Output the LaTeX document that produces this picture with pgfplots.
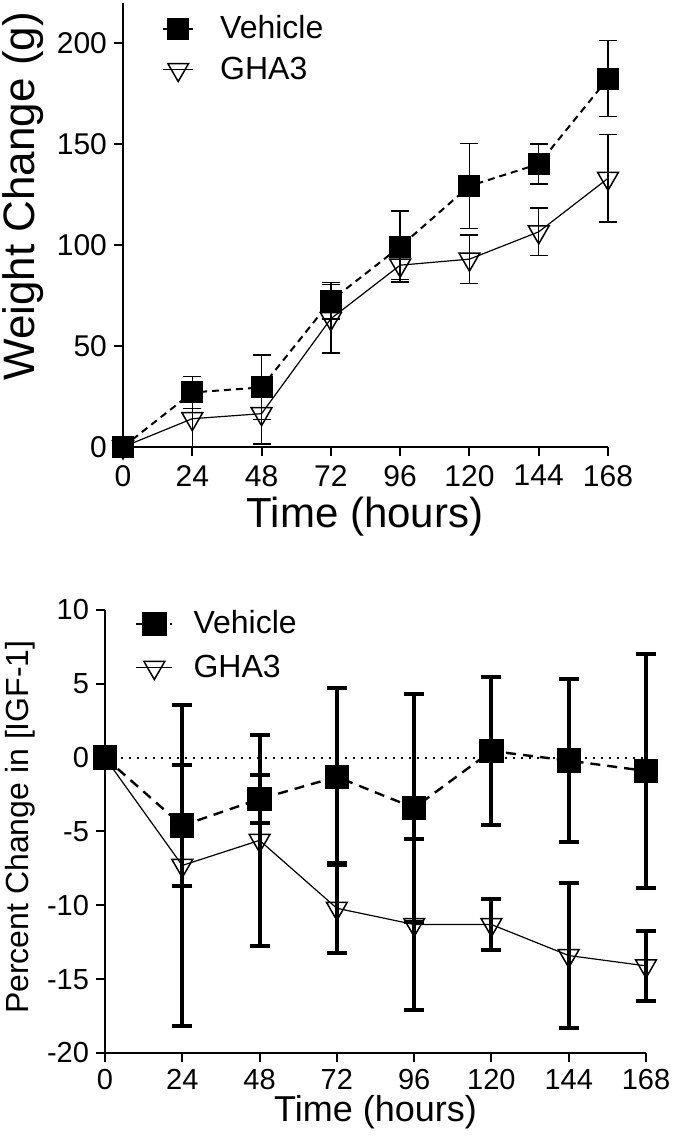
\documentclass[border=0pt]{standalone}
\usepackage{pgfplots}
\pgfplotsset{compat=1.18}
\usepackage{pgfplotstable}
\usepackage{fontspec}
\setmainfont{Liberation Sans}

% weight change (g): x, mean, error
\pgfplotstableread{
x   y      e
0   0      0
24  27     8
48  29.5   16
72  72.4   9
96  99.2   17.6
120 129.2  21
144 140.1  10
168 182.4  18.8
}\vehW
\pgfplotstableread{
x   y      e
0   0      0
24  14     14
48  16.5   15
72  63.5   17
96  90     7
120 93     12
144 106.5  11.8
168 133    21.6
}\ghaW
% percent change in IGF-1
\pgfplotstableread{
x   y      e
0   0      0
24  -4.6   4.1
48  -2.8   1.6
72  -1.3   6.0
96  -3.4   7.7
120 0.45   5.0
144 -0.2   5.5
168 -0.9   7.95
}\vehI
\pgfplotstableread{
x   y      e
0   0      0
24  -7.3   10.85
48  -5.6   7.15
72  -10.2  3.05
96  -11.3  5.8
120 -11.3  1.7
144 -13.4  4.9
168 -14.1  2.35
}\ghaI

\pgfplotsset{
  panel/.style={
    scale only axis, clip=false,
    axis lines=left, axis line style={-, line width=1pt},
    tick align=outside, major tick length=4.5pt,
    tick style={black, line width=1pt},
    xmin=0, xmax=168, xtick={0,24,...,168},
    /pgf/number format/assume math mode=true,
    legend cell align=left,
    legend style={draw=none, fill=none, inner sep=0pt, nodes={inner sep=1pt},
      font=\fontsize{16}{19}\selectfont},
    ylabel style={anchor=center},
    xlabel style={anchor=center},
  },
}

\begin{document}
\begin{tikzpicture}
\useasboundingbox (0,0) rectangle (337.5pt,570pt);

% ---- top: weight change
\begin{axis}[panel,
  at={(61.5pt,346.5pt)}, anchor=south west,
  width=242.5pt, height=222.2pt,
  ymin=0, ymax=220, ytick={0,50,...,200},
  ticklabel style={font=\fontsize{15}{18}\selectfont},
  xticklabel style={yshift=-1pt},
  xlabel={Time (hours)}, ylabel={Weight Change (g)},
  xlabel style={font=\fontsize{21}{25}\selectfont, at={(axis description cs:0.499,-0.157)}},
  ylabel style={font=\fontsize{22}{26}\selectfont, at={(axis description cs:-0.206,0.564)}},
  legend style={at={(axis description cs:0.08,0.976)}, anchor=north west,
    row sep=5.5pt, column sep=12pt},
  legend image code/.code={\draw[mark repeat=2,mark phase=2,#1] plot coordinates {(0pt,0pt) (7.5pt,0pt) (15pt,0pt)};},
]
\addplot[black, line width=1pt, dash pattern=on 3.5pt off 2.5pt,
  mark=square*, mark size=5pt, mark options={solid},
  error bars/.cd, y dir=both, y explicit,
  error bar style={line width=0.75pt, solid},
  error mark options={rotate=90, mark size=4.5pt, line width=0.75pt, solid}]
  table[x=x, y=y, y error=e] {\vehW};
\addlegendentry{Vehicle}
\addplot[black, line width=0.6pt,
  mark=triangle, mark size=6pt, mark options={rotate=180, fill=white, line width=0.75pt},
  error bars/.cd, y dir=both, y explicit,
  error bar style={line width=0.75pt},
  error mark options={rotate=90, mark size=4.5pt, line width=0.75pt}]
  table[x=x, y=y, y error=e] {\ghaW};
\addlegendentry{GHA3}
\addplot[forget plot, only marks, mark=square*, mark size=5pt, black] coordinates {(0,0)};
\end{axis}

% ---- bottom: IGF-1
\begin{axis}[panel,
  at={(52.5pt,43.5pt)}, anchor=south west,
  width=270.5pt, height=221.5pt,
  ymin=-20, ymax=10, ytick={-20,-15,...,10},
  ticklabel style={font=\fontsize{14.5}{17}\selectfont},
  xlabel={Time (hours)}, ylabel={Percent Change in [IGF-1]},
  xlabel style={font=\fontsize{18}{22}\selectfont, at={(axis description cs:0.5,-0.133)}},
  ylabel style={font=\fontsize{16}{20}\selectfont, at={(axis description cs:-0.157,0.51)}},
  legend style={at={(axis description cs:0.055,1.004)}, anchor=north west,
    row sep=7pt, column sep=9pt},
  legend image code/.code={\draw[mark repeat=2,mark phase=2,#1] plot coordinates {(0pt,0pt) (9pt,0pt) (18pt,0pt)};},
]
\addplot[forget plot, black, line width=1pt, dash pattern=on 1pt off 3pt] coordinates {(0,0) (168,0)};
\addplot[black, line width=1.2pt, dash pattern=on 5pt off 3.5pt,
  mark=square*, mark size=5.5pt, mark options={solid},
  error bars/.cd, y dir=both, y explicit,
  error bar style={line width=2pt, solid},
  error mark options={rotate=90, mark size=5pt, line width=2pt, solid}]
  table[x=x, y=y, y error=e] {\vehI};
\addlegendentry{Vehicle}
\addplot[black, line width=0.6pt,
  mark=triangle, mark size=6pt, mark options={rotate=180, fill=white, line width=0.75pt},
  error bars/.cd, y dir=both, y explicit,
  error bar style={line width=2pt},
  error mark options={rotate=90, mark size=5pt, line width=2pt}]
  table[x=x, y=y, y error=e] {\ghaI};
\addlegendentry{GHA3}
\addplot[forget plot, only marks, mark=square*, mark size=5.5pt, black] coordinates {(0,0)};
\end{axis}
\end{tikzpicture}
\end{document}
